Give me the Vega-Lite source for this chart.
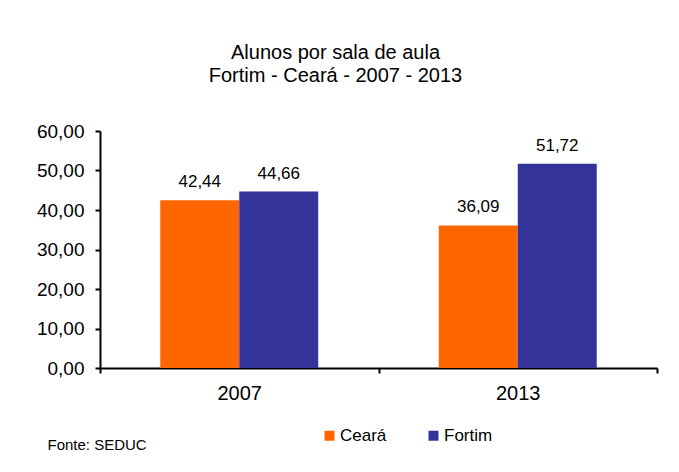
{
  "$schema": "https://vega.github.io/schema/vega-lite/v6.json",
  "width": 557,
  "height": 237,
  "autosize": "none",
  "padding": {"left": 100, "top": 131, "right": 22, "bottom": 104},
  "background": "white",
  "config": {
    "font": "Liberation Sans",
    "view": {"stroke": null},
    "locale": {
      "number": {"decimal": ",", "thousands": ".", "grouping": [3], "currency": ["R$", ""]}
    }
  },
  "title": {
    "text": ["Alunos por sala de aula", "Fortim - Ceará - 2007 - 2013"],
    "font": "Liberation Sans",
    "fontSize": 20,
    "fontWeight": "normal",
    "lineHeight": 23,
    "color": "black",
    "anchor": "middle",
    "dx": -43,
    "offset": 36
  },
  "data": {
    "values": [
      {"ano": "2007", "serie": "Ceará", "valor": 42.44},
      {"ano": "2007", "serie": "Fortim", "valor": 44.66},
      {"ano": "2013", "serie": "Ceará", "valor": 36.09},
      {"ano": "2013", "serie": "Fortim", "valor": 51.72}
    ]
  },
  "encoding": {
    "x": {
      "field": "ano",
      "type": "nominal",
      "scale": {"paddingInner": 0, "paddingOuter": 0},
      "axis": {
        "title": "Fonte: SEDUC",
        "titleFont": "Liberation Sans",
        "titleFontSize": 15,
        "titleFontWeight": "normal",
        "titleColor": "black",
        "titleAnchor": "start",
        "titleAlign": "left",
        "titleBaseline": "alphabetic",
        "titleX": -53,
        "titleY": 81,
        "labelAngle": 0,
        "labelFontSize": 20,
        "labelColor": "black",
        "labelPadding": 10,
        "domainColor": "black",
        "domainWidth": 2,
        "tickColor": "black",
        "tickWidth": 2,
        "tickSize": 5,
        "tickBand": "extent"
      }
    },
    "xOffset": {
      "field": "serie",
      "type": "nominal",
      "scale": {"paddingInner": 0, "paddingOuter": 0.763}
    },
    "y": {
      "field": "valor",
      "type": "quantitative",
      "scale": {"domain": [0, 60], "nice": false},
      "axis": {
        "title": null,
        "values": [0, 10, 20, 30, 40, 50, 60],
        "format": ".2f",
        "labelFontSize": 19,
        "labelColor": "black",
        "labelPadding": 11,
        "grid": false,
        "domainColor": "black",
        "domainWidth": 2,
        "tickColor": "black",
        "tickWidth": 2,
        "tickSize": 5
      }
    }
  },
  "layer": [
    {
      "mark": {"type": "bar"},
      "encoding": {
        "color": {
          "field": "serie",
          "type": "nominal",
          "scale": {"domain": ["Ceará", "Fortim"], "range": ["#FF6600", "#333399"]},
          "legend": {
            "title": null,
            "orient": "none",
            "legendX": 221,
            "legendY": 296,
            "direction": "horizontal",
            "symbolType": "square",
            "symbolSize": 100,
            "symbolStrokeWidth": 0,
            "labelFontSize": 17,
            "labelColor": "black",
            "labelOffset": 2,
            "columnPadding": 38
          }
        }
      }
    },
    {
      "mark": {"type": "text", "baseline": "alphabetic", "dy": -13, "fontSize": 17, "color": "black"},
      "encoding": {
        "text": {"field": "valor", "type": "quantitative", "format": ".2f"}
      }
    }
  ]
}
